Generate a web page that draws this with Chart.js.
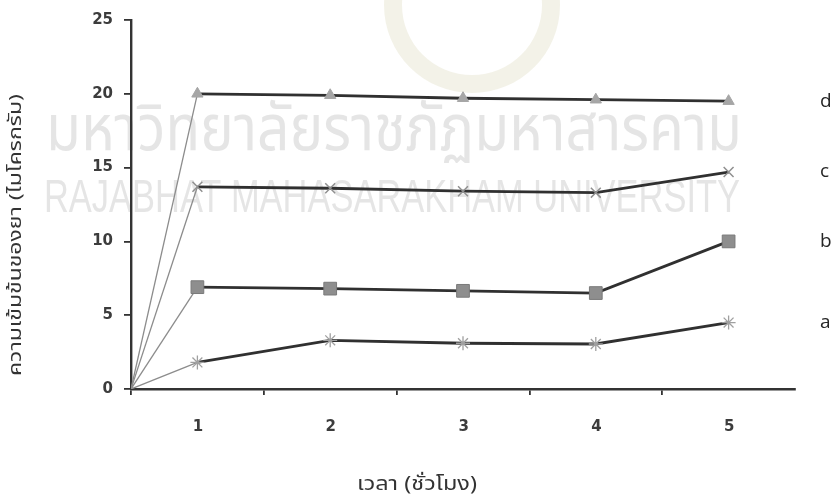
<!DOCTYPE html>
<html><head><meta charset="utf-8">
<script src="https://cdn.jsdelivr.net/npm/chart.js@4/dist/chart.umd.min.js"></script>
<style>html,body{margin:0;padding:0;background:#fff}#wrap{width:834px;height:498px}</style>
</head><body><div id="wrap"><canvas id="c" width="834" height="498"></canvas></div>
<script>
const hours = [0, 1, 2, 3, 4, 5];
const tickLabels = ['1', '2', '3', '4', '5'];
const seriesNames = ['a', 'b', 'c', 'd'];
const seriesA = [0, 1.8, 3.3, 3.1, 3.05, 4.5];
const seriesB = [0, 6.9, 6.8, 6.65, 6.5, 10.0];
const seriesC = [0, 13.7, 13.6, 13.4, 13.3, 14.7];
const seriesD = [0, 20.0, 19.9, 19.7, 19.6, 19.5];
const yTitle = 'ความเข้มข้นของยา (ไมโครกรัม)';
const xTitle = 'เวลา (ชั่วโมง)';
const watermarkTh = 'มหาวิทยาลัยราชภัฏมหาสารคาม';
const watermarkEn = 'RAJABHAT MAHASARAKHAM UNIVERSITY';

const THAI = '"Noto Sans Thai", "Noto Sans Thai UI", Loma, Garuda, "Tlwg Typo", "Noto Sans", sans-serif';
const toPts = vals => vals.map((v, i) => ({ x: hours[i] === 0 ? 0 : hours[i] - 0.5, y: v }));

const seg = {
  borderColor: ctx => ctx.p0DataIndex === 0 ? '#8c8c8c' : '#303030',
  borderWidth: ctx => ctx.p0DataIndex === 0 ? 1.3 : 2.8
};
const rad = r => ctx => ctx.dataIndex === 0 ? 0 : r;

const datasets = [
  { label: seriesNames[3], data: toPts(seriesD), pointStyle: 'triangle', pointRadius: rad(6.5),
    pointBackgroundColor: '#a6a6a6', pointBorderColor: '#a6a6a6', pointBorderWidth: 1 },
  { label: seriesNames[2], data: toPts(seriesC), pointStyle: 'crossRot', pointRadius: rad(7),
    pointBackgroundColor: '#8f8f8f', pointBorderColor: '#8f8f8f', pointBorderWidth: 1.5 },
  { label: seriesNames[1], data: toPts(seriesB), pointStyle: 'rect', pointRadius: rad(9),
    pointBackgroundColor: '#8e8e8e', pointBorderColor: '#7a7a7a', pointBorderWidth: 1 },
  { label: seriesNames[0], data: toPts(seriesA), pointStyle: 'star', pointRadius: rad(7),
    pointBackgroundColor: '#a0a0a0', pointBorderColor: '#a0a0a0', pointBorderWidth: 1.3 }
].map(d => Object.assign({ borderColor: '#303030', borderWidth: 2.8, fill: false, tension: 0,
  segment: seg, pointHoverRadius: 0 }, d));

function fitText(ctx, text, cx, cy, width) {
  const w = ctx.measureText(text).width;
  ctx.save();
  ctx.translate(cx, cy);
  ctx.scale(width / w, 1);
  ctx.fillText(text, 0, 0);
  ctx.restore();
}

const decor = {
  id: 'decor',
  beforeDraw(chart) {
    const ctx = chart.ctx;
    ctx.save();
    ctx.fillStyle = '#fff';
    ctx.fillRect(0, 0, chart.width, chart.height);
    // faint logo ring
    ctx.beginPath();
    ctx.arc(472, 5, 88, 0, Math.PI * 2);
    ctx.arc(472, 5, 70, 0, Math.PI * 2, true);
    ctx.fillStyle = 'rgba(205,200,160,0.24)';
    ctx.fill('evenodd');
    // watermark texts
    ctx.fillStyle = 'rgba(190,190,190,0.40)';
    ctx.textBaseline = 'alphabetic';
    ctx.textAlign = 'left';
    ctx.font = '64px ' + THAI;
    fitText(ctx, watermarkTh, 46, 150, 696);
    ctx.font = '46px "Liberation Sans Narrow", "Liberation Sans", sans-serif';
    fitText(ctx, watermarkEn, 44, 212, 696);
    ctx.restore();
  },
  afterDraw(chart) {
    const ctx = chart.ctx;
    ctx.save();
    ctx.fillStyle = '#262626';
    ctx.textBaseline = 'middle';
    ctx.textAlign = 'left';
    ctx.font = '19px "Open Sans", sans-serif';
    chart.data.datasets.forEach((ds, i) => {
      const pts = chart.getDatasetMeta(i).data;
      const p = pts[pts.length - 1];
      ctx.fillText(ds.label, 820, p.y);
    });
    ctx.fillStyle = '#333';
    ctx.textAlign = 'center';
    ctx.font = '19px ' + THAI;
    fitText(ctx, xTitle, 417, 486, 120);
    ctx.save();
    ctx.translate(18, 235);
    ctx.rotate(-Math.PI / 2);
    ctx.font = '17px ' + THAI;
    fitText(ctx, yTitle, 0, 0, 282);
    ctx.restore();
    ctx.restore();
  }
};

new Chart(document.getElementById('c'), {
  type: 'line',
  data: { datasets },
  options: {
    responsive: false, animation: false, devicePixelRatio: 1,
    layout: { padding: { left: 0, right: 39, top: 20, bottom: 0 } },
    plugins: { legend: { display: false }, tooltip: { enabled: false } },
    scales: {
      x: {
        type: 'linear', min: 0, max: 5,
        afterFit: s => { s.height = 109; },
        border: { display: true, color: '#333', width: 2.4 },
        grid: { drawOnChartArea: false, drawTicks: true, tickLength: 6, lineWidth: 1.8,
          color: ctx => (ctx.tick && ctx.tick.value === 5) ? 'rgba(0,0,0,0)' : '#333' },
        ticks: { stepSize: 1, autoSkip: false, maxRotation: 0, labelOffset: 67, padding: 23,
          color: '#3c3c3c', font: { family: '"DejaVu Sans"', size: 15, weight: 'bold' },
          callback: v => tickLabels[v] !== undefined ? tickLabels[v] : '' }
      },
      y: {
        min: 0, max: 25,
        afterFit: s => { s.width = 131; },
        border: { display: true, color: '#333', width: 2.4 },
        grid: { drawOnChartArea: false, drawTicks: true, tickLength: 7, lineWidth: 1.8, color: '#333' },
        ticks: { stepSize: 5, padding: 11, color: '#3c3c3c',
          font: { family: '"DejaVu Sans"', size: 15, weight: 'bold' } }
      }
    }
  },
  plugins: [decor]
});
</script></body></html>
